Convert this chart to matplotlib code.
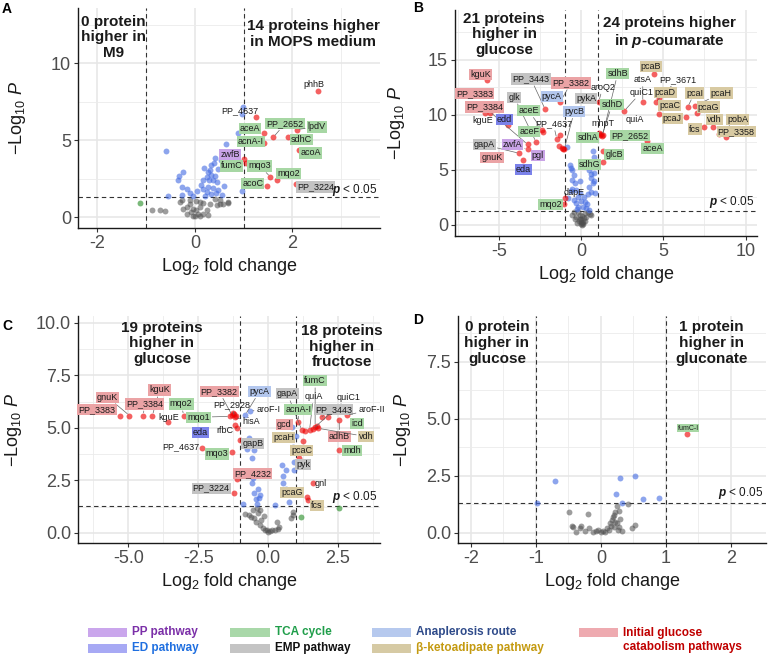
import numpy as np
import matplotlib.pyplot as plt

plt.rcParams['font.family'] = ['Liberation Sans', 'DejaVu Sans']
plt.rcParams['mathtext.fontset'] = 'custom'
plt.rcParams['mathtext.rm'] = 'Liberation Sans'
plt.rcParams['mathtext.it'] = 'Liberation Sans:italic'
plt.rcParams['mathtext.bf'] = 'Liberation Sans:italic:bold'

# ---------------- panel A : MOPS vs M9 ----------------
a_ns_x = [-0.89, -0.72, -0.62, -0.27, -0.1, 0.03, 0.17, 0.31, 0.45, 0.58, 0.68, -0.17, -0.03, 0.1, 0.24,
          -0.17, 0.0, 0.07, -0.07, 0.17, 0.27, -0.24, -0.1, 0.1, 0.41, 0.51, -0.3, 0.03, -0.03, 0.1, 0.68, 0.51]
a_ns_y = [0.45, 0.5, 0.41, 1.1, 1.15, 1.06, 0.93, 0.84, 0.78, 0.89, 0.95, 0.67, 0.56, 0.67, 0.45,
          0.24, 0.08, 0.19, 0.34, 0.24, 0.13, 0.56, 0.89, 1.0, 1.21, 1.1, 0.98, 0.45, 0.05, 0.05, 1.0, 0.84]
a_p_x = [0.99, 0.96, 0.88, 0.64, -0.59, 0.42, 0.54, 0.39, 0.33, 0.18, 0.48, -0.25, -0.32, 0.27, 0.34, 0.41,
         0.24, 0.17, 0.29, 0.38, 0.45, -0.27, -0.17, 0.17, 0.27, 0.38, 0.48, 0.24, -0.1, -0.55, -0.27, -0.03,
         0.34, 0.55, 0.97, -0.34, 0.30, 0.12, 0.05, 0.6, 0.2, 0.44]
a_p_y = [7.16, 6.73, 5.5, 4.74, 4.29, 3.85, 3.74, 3.5, 3.42, 3.2, 3.12, 2.97, 2.68, 2.94, 2.73, 2.66,
         2.62, 2.4, 2.4, 2.45, 2.29, 1.97, 1.86, 1.86, 1.97, 1.93, 1.75, 1.64, 1.58, 1.38, 1.43, 1.36,
         1.49, 1.43, 1.69, 2.4, 3.05, 2.1, 1.7, 2.0, 1.4, 1.6]
a_fc_x = [-1.12]
a_fc_y = [0.93]
a_both_x = [2.53, 1.25, 1.42, 1.61, 1.42, 1.92, 2.09, 2.14, 1.01, 1.05, 1.55, 1.68, 1.48, 2.07]
a_both_y = [8.18, 6.5, 5.45, 5.2, 4.85, 5.2, 5.7, 4.4, 3.77, 3.53, 2.62, 2.4, 2.06, 2.19]
a_labels = [
    ("phhB", 2.45, 8.65, None, None),
    ("PP_4637", 0.92, 6.95, None, None),
    ("aceA", 1.13, 5.78, 'tca', None),
    ("PP_2652", 1.85, 6.08, 'tca', (1.61, 5.2)),
    ("lpdV", 2.5, 5.87, 'tca', (2.09, 5.7)),
    ("acnA-I", 1.15, 4.94, 'tca', None),
    ("sdhC", 2.19, 5.04, 'tca', None),
    ("acoA", 2.38, 4.18, 'tca', None),
    ("zwfB", 0.72, 4.07, 'pp', None),
    ("fumC", 0.75, 3.33, 'tca', None),
    ("mqo3", 1.33, 3.33, 'tca', (1.55, 2.62)),
    ("mqo2", 1.92, 2.83, 'tca', None),
    ("acoC", 1.19, 2.19, 'tca', None),
    ("PP_3224", 2.48, 1.97, 'emp', None),
]

# ---------------- panel B : p-coumarate vs glucose ----------------
b_ns_x = [-0.55, -0.3, -0.15, 0.0, 0.1, 0.3, 0.6, 0.5, -0.1, 0.05, -0.2, 0.2, -0.05, 0.0, 0.15, -0.25,
          0.05, -0.4, 0.25, -0.1, 0.1, 0.4, -0.45, 0.02]
b_ns_y = [0.9, 0.7, 0.4, 0.1, 0.25, 0.7, 0.9, 1.0, 0.55, 0.0, 1.15, 1.1, 0.3, 0.5, 0.6, 0.2,
          0.8, 0.5, 0.4, 0.9, 0.05, 1.2, 1.2, 0.2]
b_p_x = [-0.87, -0.63, -0.55, -0.43, -0.57, -0.4, -0.32, -0.6, -0.22, -0.06, -0.02, 0.22, 0.38, 0.58, 0.49,
         0.69, 0.58, 0.75, 0.49, 0.78, -0.33, 0.08, 0.28, -0.18, -0.8, 0.69, 0.79, 0.6, -0.1, -0.63, -0.45,
         0.35, 0.15, -0.7, 0.72, 0.85, -0.25, 0.45]
b_p_y = [7.03, 5.2, 5.0, 4.55, 4.1, 3.8, 3.18, 3.3, 2.57, 2.88, 2.21, 2.12, 2.82, 3.0, 3.48,
         3.8, 4.3, 4.7, 5.0, 3.97, 1.97, 1.67, 1.52, 1.6, 2.45, 6.67, 6.2, 4.6, 4.0, 3.1, 2.3,
         1.9, 2.5, 5.4, 5.7, 2.9, 1.45, 1.4]
b_fc_x = []
b_fc_y = []
b_both_x = [-5.77, -5.87, -5.57, -4.49, -2.21, -1.3, -2.4, -2.36, -2.76, -3.27, -3.27, -3.78, -3.58, -1.5,
            -1.28, -1.34, -1.04, -1.2, -0.99, -1.04, -1.1,
            1.06, 1.1, 1.3, 1.91, 1.3, 1.3, 2.62, 3.74, 4.45, 4.55, 4.7, 4.72, 3.98, 6.48, 6.95, 7.05,
            6.38, 7.46, 8.01, 8.37, 8.84, 1.15, 1.2, 1.25]
b_both_y = [13.15, 10.15, 10.2, 9.09, 10.5, 11.15, 8.64, 8.4, 7.52, 7.3, 6.88, 6.5, 5.85, 7.82,
            8.18, 7.2, 6.9, 7.0, 2.48, 1.88, 6.85,
            11.18, 8.33, 8.18, 8.18, 6.67, 5.67, 10.36, 11.15, 13.7, 11.2, 11.5, 10.06, 7.58, 10.7, 10.82, 10.12,
            9.79, 8.85, 8.85, 8.24, 8.0, 8.2, 8.27, 8.1]
b_labels = [
    ("kguK", -6.16, 13.64, 'glc', None),
    ("PP_3443", -3.07, 13.24, 'emp', (-2.21, 10.5)),
    ("PP_3382", -0.63, 12.88, 'glc', (-1.3, 11.15)),
    ("PP_3383", -6.52, 11.9, 'glc', None),
    ("glk", -4.09, 11.6, 'emp', (-2.76, 7.52)),
    ("pycA", -1.81, 11.67, 'ana', None),
    ("pykA", 0.28, 11.45, 'emp', (1.06, 11.18)),
    ("PP_3384", -5.91, 10.7, 'glc', (-3.27, 7.3)),
    ("aceE", -3.21, 10.36, 'tca', (-2.4, 8.64)),
    ("pycB", -0.43, 10.3, 'ana', (-1.04, 6.9)),
    ("kguE", -6.02, 9.45, None, None),
    ("edd", -4.7, 9.55, 'ed', None),
    ("PP_4637", -1.71, 9.18, None, (-1.5, 7.82)),
    ("aceF", -3.17, 8.48, 'tca', None),
    ("sdhA", 0.39, 7.94, 'tca', (1.1, 8.33)),
    ("gapA", -5.91, 7.27, 'emp', (-3.78, 6.5)),
    ("zwfA", -4.19, 7.27, 'pp', (-3.27, 6.88)),
    ("pgl", -2.66, 6.33, 'pp', None),
    ("gnuK", -5.45, 6.15, 'glc', None),
    ("eda", -3.52, 5.06, 'ed', None),
    ("sdhG", 0.49, 5.52, 'tca', None),
    ("dapE", -0.43, 2.94, None, None),
    ("mqo2", -1.89, 1.88, 'tca', None),
    ("sdhB", 2.21, 13.73, 'tca', (1.3, 8.18)),
    ("pcaB", 4.25, 14.4, 'keto', None),
    ("atsA", 3.74, 13.18, None, (3.74, 11.15)),
    ("PP_3671", 5.87, 13.18, None, (4.55, 11.2)),
    ("aroQ2", 1.3, 12.5, None, (1.06, 11.18)),
    ("quiC1", 3.64, 12.03, None, (2.62, 10.36)),
    ("pcaD", 5.1, 12.03, 'keto', None),
    ("pcaI", 6.89, 11.97, 'keto', (6.48, 10.7)),
    ("pcaH", 8.52, 11.97, 'keto', (6.95, 10.82)),
    ("sdhD", 1.87, 10.9, 'tca', (1.25, 8.1)),
    ("pcaC", 5.37, 10.8, 'keto', None),
    ("pcaG", 7.74, 10.7, 'keto', None),
    ("quiA", 3.23, 9.6, None, None),
    ("pcaJ", 5.53, 9.67, 'keto', None),
    ("vdh", 8.11, 9.6, 'keto', None),
    ("pobA", 9.53, 9.6, 'keto', (8.37, 8.24)),
    ("mhpT", 1.3, 9.24, None, None),
    ("fcs", 6.93, 8.7, 'keto', None),
    ("PP_3358", 9.43, 8.45, 'keto', None),
    ("PP_2652", 2.97, 8.12, 'tca', None),
    ("aceA", 4.35, 6.9, 'tca', None),
    ("glcB", 2.01, 6.36, 'tca', None),
]

# ---------------- panel C : fructose vs glucose ----------------
c_ns_x = [-0.82, -0.7, -0.6, -0.5, -0.29, -0.35, -0.45, -0.3, -0.2, -0.1, -0.05, 0.07, 0.15, 0.25, 0.35,
          0.4, 0.3, 0.9, 0.88, 0.8, -0.25, -0.15, -0.4, -0.55, 0.0]
c_ns_y = [0.9, 0.85, 0.75, 0.7, 1.1, 0.95, 0.5, 0.4, 0.25, 0.15, 0.14, 0.1, 0.12, 0.15, 0.2,
          0.3, 0.5, 1.01, 0.86, 0.7, 0.6, 0.8, 1.2, 1.1, 0.05]
c_p_x = [-0.82, -0.64, -0.58, -0.52, -0.76, -0.4, -0.57, -0.37, -0.5, -0.32, -0.4, -0.6, 0.49, 0.65, 0.54,
         0.52, 0.65, 0.94, 0.94, 0.9, 0.98, 0.85, 0.25, -0.9, -0.7, -0.45, -0.55, 0.75, -0.28]
c_p_y = [5.62, 5.8, 3.56, 3.95, 4.0, 2.9, 2.4, 2.1, 1.9, 1.65, 1.4, 2.75, 3.24, 3.0, 2.7,
         2.38, 2.07, 3.4, 3.0, 4.08, 4.6, 5.05, 1.33, 1.4, 4.5, 1.6, 2.6, 1.45, 1.8]
c_fc_x = [1.17, 2.55]
c_fc_y = [0.78, 1.18]
c_both_x = [-5.3, -4.96, -4.46, -4.14, -3.57, -3.02, -2.36, -1.31, -1.36, -1.29, -1.22, -1.15, -1.19, -1.19,
            -1.13, -1.01, -1.13, -1.21, -1.25,
            1.08, 1.2, 1.32, 1.48, 1.6, 1.68, 1.8, 1.92, 2.15, 2.54, 2.81, 2.55, 1.12, 1.62, 1.38, 1.43,
            1.75, 1.25]
c_both_y = [5.59, 5.59, 5.59, 5.59, 5.3, 5.59, 4.03, 3.83, 5.55, 5.6, 5.65, 5.58, 5.5, 5.14,
            4.98, 4.43, 2.56, 1.89, 5.7,
            5.3, 4.9, 4.83, 4.9, 4.95, 5.06, 4.98, 5.54, 5.54, 5.38, 5.6, 3.95, 3.56, 2.37, 1.7, 1.58,
            5.1, 4.4]
c_labels = [
    ("gnuK", -5.74, 6.46, 'glc', (-4.96, 5.59)),
    ("kguK", -3.88, 6.81, 'glc', (-4.14, 5.59)),
    ("PP_3382", -1.75, 6.73, 'glc', (-1.29, 5.6)),
    ("pycA", -0.31, 6.73, 'ana', (-0.82, 5.62)),
    ("gapA", 0.69, 6.62, 'emp', (1.2, 4.9)),
    ("fumC", 1.68, 7.24, 'tca', (1.68, 5.06)),
    ("quiA", 1.62, 6.49, None, (1.48, 4.9)),
    ("quiC1", 2.87, 6.46, None, (1.6, 4.95)),
    ("PP_3384", -4.43, 6.14, 'glc', (-4.46, 5.59)),
    ("mqo2", -3.11, 6.14, 'tca', (-3.02, 5.59)),
    ("PP_3383", -6.12, 5.86, 'glc', None),
    ("PP_2928", -1.3, 6.1, None, (-1.22, 5.65)),
    ("aroF-I", 0.01, 5.9, None, (-0.64, 5.8)),
    ("acnA-I", 1.08, 5.89, 'tca', (1.08, 5.3)),
    ("PP_3443", 2.33, 5.89, 'emp', (1.92, 5.54)),
    ("aroF-II", 3.7, 5.89, None, (2.81, 5.6)),
    ("kguE", -3.56, 5.51, None, None),
    ("mqo1", -2.49, 5.51, 'tca', (-1.36, 5.55)),
    ("hisA", -0.62, 5.3, None, (-1.19, 5.5)),
    ("gcd", 0.58, 5.17, 'glc', None),
    ("icd", 3.17, 5.22, 'tca', None),
    ("eda", -2.43, 4.78, 'ed', None),
    ("rfbC", -1.54, 4.87, None, (-1.13, 4.98)),
    ("pcaH", 0.55, 4.56, 'keto', None),
    ("adhB", 2.55, 4.59, 'glc', (2.54, 5.38)),
    ("vdh", 3.5, 4.59, 'keto', (1.8, 4.98)),
    ("gapB", -0.55, 4.24, 'emp', None),
    ("PP_4637", -3.14, 4.11, None, None),
    ("mqo3", -1.83, 3.76, 'tca', None),
    ("pcaC", 1.2, 3.92, 'keto', None),
    ("mdh", 2.99, 3.92, 'tca', None),
    ("pyk", 1.26, 3.24, 'emp', None),
    ("PP_4232", -0.56, 2.81, 'glc', None),
    ("gnl", 1.88, 2.37, None, None),
    ("PP_3224", -2.04, 2.13, 'emp', None),
    ("pcaG", 0.85, 1.92, 'keto', None),
    ("fcs", 1.74, 1.29, 'keto', (1.43, 1.58)),
]

# ---------------- panel D : gluconate vs glucose ----------------
d_ns_x = [-0.49, -0.2, 0.24, 0.28, 0.41, 0.2, -0.43, -0.33, -0.18, -0.08, 0.03, 0.1, 0.14, 0.17, 0.22,
          0.19, 0.25, 0.28, 0.33, 0.48, 0.53, -0.38, -0.25, -0.12, 0.0, 0.06, -0.3, 0.15, 0.22, 0.3,
          0.26, -0.45, 0.12, -0.05, 0.2]
d_ns_y = [0.93, 0.82, 1.2, 0.96, 1.26, 0.8, 0.25, 0.2, 0.2, 0.1, 0.1, 0.2, 0.42, 0.58, 0.5,
          0.7, 0.42, 0.25, 0.1, 0.2, 0.35, 0.05, 0.1, 0.05, 0.02, 0.05, 0.3, 0.3, 0.9, 0.6,
          0.15, 0.3, 0.12, 0.15, 0.25]
d_p_x = [-0.7, 0.29, 0.53, 0.23, 0.65, 0.89, 0.33, -0.99]
d_p_y = [2.28, 2.4, 2.51, 1.7, 1.48, 1.52, 1.33, 1.33]
d_fc_x = []
d_fc_y = []
d_both_x = [1.33]
d_both_y = [4.33]
d_labels = [("fumC-I", 1.34, 4.59, 'tca', None)]

# pathway colours for the label boxes, and lighter ones for the legend keys
box_col = {'pp': '#c9a3e6', 'ed': '#7b82ea', 'tca': '#a7d7a4', 'emp': '#c3c3c3',
           'ana': '#b3c7ee', 'keto': '#d8caa2', 'glc': '#eba3a5'}
key_col = {'pp': '#caa6ec', 'ed': '#a7a9f4', 'tca': '#a9d8a9', 'emp': '#c4c4c4',
           'ana': '#b6c9ee', 'keto': '#d6caa4', 'glc': '#eeaab0'}
legend_items = [
    ("PP pathway", 'pp', '#7b2fa8'), ("ED pathway", 'ed', '#1f6fe0'),
    ("TCA cycle", 'tca', '#1f9e4a'), ("EMP pathway", 'emp', '#111111'),
    ("Anaplerosis route", 'ana', '#2f4b8a'), ("β-ketoadipate pathway", 'keto', '#c49a10'),
    ("Initial glucose\ncatabolism pathways", 'glc', '#c00000'),
]

W, H = 770, 658
fig = plt.figure(figsize=(W / 100, H / 100), dpi=100)


def px_axes(l, t, r, b):
    return fig.add_axes([l / W, 1 - b / H, (r - l) / W, (b - t) / H])


def volcano(ax, ns, pv, fc, both, labels, xlim, ylim, xmaj, xmin, xlab, ymaj, ymin, ylab,
            left_txt, left_pos, right_txt, right_pos, p_y, ylab_x, lab_fs=6.5):
    for v in xmin:
        ax.axvline(v, color='#ebebeb', lw=0.6, zorder=0)
    for v in xmaj:
        ax.axvline(v, color='#e6e6e6', lw=1.1, zorder=0)
    for v in ymin:
        ax.axhline(v, color='#ebebeb', lw=0.6, zorder=0)
    for v in ymaj:
        ax.axhline(v, color='#e6e6e6', lw=1.1, zorder=0)
    ax.axvline(-1, color='#333333', lw=0.8, ls=(0, (4, 3)), zorder=1)
    ax.axvline(1, color='#333333', lw=0.8, ls=(0, (4, 3)), zorder=1)
    ax.axhline(-np.log10(0.05), color='#333333', lw=0.8, ls=(0, (4, 3)), zorder=1)

    ax.scatter(ns[0], ns[1], s=18, color='#4d4d4d', alpha=0.55, lw=0, zorder=2)
    ax.scatter(fc[0], fc[1], s=18, color='#228b22', alpha=0.6, lw=0, zorder=2)
    ax.scatter(pv[0], pv[1], s=18, color='#4169e1', alpha=0.6, lw=0, zorder=2)
    ax.scatter(both[0], both[1], s=18, color='#ee0000', alpha=0.62, lw=0, zorder=3)

    for name, lx, ly, cat, tgt in labels:
        bb = dict(boxstyle='square,pad=0.12', fc=box_col[cat], ec='none') if cat else \
            dict(boxstyle='square,pad=0.12', fc='none', ec='none')
        if tgt is not None:
            ax.annotate(name, xy=tgt, xytext=(lx, ly), fontsize=lab_fs, color='#1a1a1a',
                        ha='center', va='center', bbox=bb, zorder=5,
                        arrowprops=dict(arrowstyle='-', color='#666666', lw=0.5,
                                        shrinkA=1, shrinkB=2))
        else:
            ax.text(lx, ly, name, fontsize=lab_fs, color='#1a1a1a', ha='center', va='center',
                    bbox=bb, zorder=5)

    ax.text(left_pos[0], left_pos[1], left_txt, fontsize=11, fontweight='bold', color='#1a1a1a',
            ha='center', va='center', linespacing=1.15, zorder=6)
    ax.text(right_pos[0], right_pos[1], right_txt, fontsize=11, fontweight='bold', color='#1a1a1a',
            ha='center', va='center', linespacing=1.15, zorder=6)
    ax.text(xlim[1] - 0.01 * (xlim[1] - xlim[0]), p_y, r'$\mathbf{p}$ < 0.05', fontsize=8.5,
            ha='right', va='center', color='#1a1a1a', zorder=6)

    ax.set_xlim(xlim)
    ax.set_ylim(ylim)
    ax.set_xticks(xmaj)
    ax.set_xticklabels(xlab)
    ax.set_yticks(ymaj)
    ax.set_yticklabels(ylab)
    ax.tick_params(labelsize=13, labelcolor='#4d4d4d', color='#333333', length=3, width=0.8, pad=2)
    for s in ['top', 'right']:
        ax.spines[s].set_visible(False)
    for s in ['left', 'bottom']:
        ax.spines[s].set_linewidth(1.0)
        ax.spines[s].set_color('#1a1a1a')
    ax.set_xlabel('Log$_2$ fold change', fontsize=13, color='#1a1a1a', labelpad=3)
    ax.set_ylabel(r'$-$Log$_{10}$ $\mathit{P}$', fontsize=13, color='#1a1a1a')
    ax.yaxis.set_label_coords(ylab_x, 0.5)


axA = px_axes(78, 8, 380, 228)
volcano(axA, (a_ns_x, a_ns_y), (a_p_x, a_p_y), (a_fc_x, a_fc_y), (a_both_x, a_both_y), a_labels,
        (-2.4, 3.8), (-0.7, 13.6), [-2, 0, 2], [-1, 1, 3], ['-2', '0', '2'],
        [0, 5, 10], [2.5, 7.5, 12.5], ['0', '5', '10'],
        "0 protein\nhigher in\nM9", (-1.68, 11.7), "14 proteins higher\nin MOPS medium", (2.43, 11.9), 1.8,
        -0.166)

axB = px_axes(455, 10, 757, 236)
volcano(axB, (b_ns_x, b_ns_y), (b_p_x, b_p_y), (b_fc_x, b_fc_y), (b_both_x, b_both_y), b_labels,
        (-7.7, 10.7), (-1.0, 19.5), [-5, 0, 5, 10], [-7.5, -2.5, 2.5, 7.5], ['-5', '0', '5', '10'],
        [0, 5, 10, 15], [2.5, 7.5, 12.5, 17.5], ['0', '5', '10', '15'],
        "21 proteins\nhigher in\nglucose", (-4.7, 17.3),
        "24 proteins higher\nin $\\mathbf{p}$-coumarate", (5.37, 17.45), 2.1, -0.159)

axC = px_axes(78, 316, 380, 543)
volcano(axC, (c_ns_x, c_ns_y), (c_p_x, c_p_y), (c_fc_x, c_fc_y), (c_both_x, c_both_y), c_labels,
        (-6.8, 4.0), (-0.48, 10.33), [-5, -2.5, 0, 2.5], [-6.25, -3.75, -1.25, 1.25, 3.75],
        ['-5.0', '-2.5', '0.0', '2.5'],
        [0, 2.5, 5, 7.5, 10], [1.25, 3.75, 6.25, 8.75], ['0.0', '2.5', '5.0', '7.5', '10.0'],
        "19 proteins\nhigher in\nglucose", (-3.8, 9.03), "18 proteins\nhigher in\nfructose", (2.63, 8.87), 1.73,
        -0.18)

axD = px_axes(458, 316, 766, 543)
volcano(axD, (d_ns_x, d_ns_y), (d_p_x, d_p_y), (d_fc_x, d_fc_y), (d_both_x, d_both_y), d_labels,
        (-2.2, 2.54), (-0.44, 9.5), [-2, -1, 0, 1, 2], [-1.5, -0.5, 0.5, 1.5], ['-2', '-1', '0', '1', '2'],
        [0, 2.5, 5, 7.5], [1.25, 3.75, 6.25, 8.75], ['0.0', '2.5', '5.0', '7.5'],
        "0 protein\nhigher in\nglucose", (-1.6, 8.32), "1 protein\nhigher in\ngluconate", (1.7, 8.32), 1.74,
        -0.146, lab_fs=5)

for letter, x, y in [("A", 7, 9), ("B", 418, 8), ("C", 7, 326), ("D", 418, 320)]:
    fig.text(x / W, 1 - y / H, letter, fontsize=10, fontweight='bold', ha='center', va='center')

# legend strip at the bottom
sw_x = [(88, 127), (88, 127), (230, 270), (230, 270), (372, 411), (372, 411), (579, 618)]
row_y = [632, 648, 632, 648, 632, 648, 632]
for (txt, cat, tcol), (x0, x1), yy in zip(legend_items, sw_x, row_y):
    fig.patches.append(plt.Rectangle((x0 / W, 1 - (yy + 4.5) / H), (x1 - x0) / W, 9 / H,
                                     transform=fig.transFigure, fc=key_col[cat], ec='none'))
    ty = yy if '\n' not in txt else yy + 8
    fig.text((x1 + 5) / W, 1 - ty / H, txt, fontsize=8.5, fontweight='bold', color=tcol,
             ha='left', va='center', linespacing=1.2)

fig.savefig('out.png', dpi=100)
